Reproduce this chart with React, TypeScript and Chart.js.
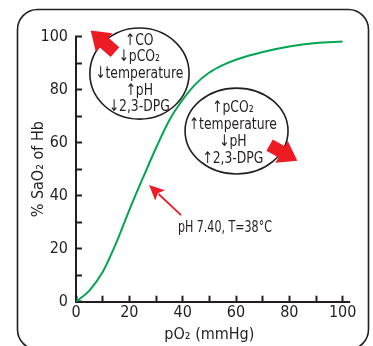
import React, { useEffect, useRef } from "react";
import { Chart, registerables } from "chart.js";

Chart.register(...registerables);

// ---- data ----
const pO2 = [0, 5, 10, 15, 20, 25, 30, 35, 40, 45, 50, 55, 60, 70, 80, 90, 100];
const saturation = [0, 4.2, 11.2, 22, 34.6, 46.5, 58, 68.5, 76.2, 82.3, 86.5, 89.3, 91.3, 94.2, 96.3, 97.6, 98.2];
const xTicks = [0, 10, 20, 30, 40, 50, 60, 70, 80, 90, 100];
const yTicks = [0, 10, 20, 30, 40, 50, 60, 70, 80, 90, 100];
const labelStep = 20;
const leftShiftFactors = ["↑CO", "↓pCO₂", "↓temperature", "↑pH", "↓2,3-DPG"];
const rightShiftFactors = ["↑pCO₂", "↑temperature", "↓pH", "↑2,3-DPG"];
const conditionLabel = "pH 7.40, T=38°C";
const xTitle = "pO₂ (mmHg)";
const yTitle = "% SaO₂ of Hb";

// ---- annotation anchors (data units) ----
const leftEllipse = { x: 23.8, y: 86.1, rx: 18.6, ry: 17.2 };
const leftText = { x: 23.7, y: 86.0 };
const rightEllipse = { x: 60.2, y: 64.4, rx: 19.3, ry: 16.2 };
const rightText = { x: 58.8, y: 63.6 };
const leftArrow = { from: { x: 14.6, y: 94.2 }, to: { x: 5.5, y: 102.3 } };
const rightArrow = { from: { x: 72.6, y: 59.1 }, to: { x: 83.0, y: 53.2 } };
const pointer = { from: { x: 39.4, y: 32.7 }, to: { x: 27.4, y: 44.0 } };
const pointerText = { x: 38.2, y: 26.3 };
const xAxisOverrun = 2.8; // axis line continues past 100 (data units)

// ---- styles ----
const FONT = "'Liberation Sans Narrow', 'DejaVu Sans Condensed', 'Arial Narrow', 'Liberation Sans', sans-serif";
const INK = "#231f20";
const RED = "#ed1c24";
const GREEN = "#00a651";

function bigArrow(ctx: CanvasRenderingContext2D, x1: number, y1: number, x2: number, y2: number) {
  const dx = x2 - x1, dy = y2 - y1;
  const L = Math.hypot(dx, dy);
  const ux = dx / L, uy = dy / L;
  const nx = -uy, ny = ux;
  const headLen = 18, headHalf = 12.5, shaftHalf = 6.5;
  const bx = x2 - ux * headLen, by = y2 - uy * headLen;
  ctx.beginPath();
  ctx.moveTo(x1 + nx * shaftHalf, y1 + ny * shaftHalf);
  ctx.lineTo(bx + nx * shaftHalf, by + ny * shaftHalf);
  ctx.lineTo(bx + nx * headHalf, by + ny * headHalf);
  ctx.lineTo(x2, y2);
  ctx.lineTo(bx - nx * headHalf, by - ny * headHalf);
  ctx.lineTo(bx - nx * shaftHalf, by - ny * shaftHalf);
  ctx.lineTo(x1 - nx * shaftHalf, y1 - ny * shaftHalf);
  ctx.closePath();
  ctx.fillStyle = RED;
  ctx.fill();
}

function thinArrow(ctx: CanvasRenderingContext2D, x1: number, y1: number, x2: number, y2: number) {
  const dx = x2 - x1, dy = y2 - y1;
  const L = Math.hypot(dx, dy);
  const ux = dx / L, uy = dy / L;
  const nx = -uy, ny = ux;
  const headLen = 15, headHalf = 7;
  const bx = x2 - ux * headLen, by = y2 - uy * headLen;
  ctx.beginPath();
  ctx.moveTo(x1, y1);
  ctx.lineTo(bx + ux * 2, by + uy * 2);
  ctx.strokeStyle = RED;
  ctx.lineWidth = 1.8;
  ctx.stroke();
  ctx.beginPath();
  ctx.moveTo(x2, y2);
  ctx.lineTo(bx + nx * headHalf, by + ny * headHalf);
  ctx.lineTo(bx + ux * 3, by + uy * 3);
  ctx.lineTo(bx - nx * headHalf, by - ny * headHalf);
  ctx.closePath();
  ctx.fillStyle = RED;
  ctx.fill();
}

function squeezedText(ctx: CanvasRenderingContext2D, t: string, x: number, y: number, k: number) {
  ctx.save();
  ctx.translate(x, y);
  ctx.scale(k, 1);
  ctx.fillText(t, 0, 0);
  ctx.restore();
}

const decorPlugin = {
  id: "decor",
  beforeDraw(chart: any) {
    const ctx = chart.ctx as CanvasRenderingContext2D;
    ctx.save();
    ctx.strokeStyle = INK;
    ctx.lineWidth = 1.6;
    ctx.beginPath();
    (ctx as any).roundRect(17.5, 9.5, 351, 340, 20);
    ctx.stroke();
    ctx.restore();
  },
  afterDraw(chart: any) {
    const ctx = chart.ctx as CanvasRenderingContext2D;
    const xs = chart.scales.x, ys = chart.scales.y;
    const px = (v: number) => xs.getPixelForValue(v);
    const py = (v: number) => ys.getPixelForValue(v);
    const sx = (d: number) => Math.abs(xs.getPixelForValue(d) - xs.getPixelForValue(0));
    const sy = (d: number) => Math.abs(ys.getPixelForValue(d) - ys.getPixelForValue(0));
    ctx.save();

    // x axis line runs a little past the last tick
    const ay = Math.round(py(0));
    ctx.strokeStyle = INK;
    ctx.lineWidth = 2;
    ctx.beginPath();
    ctx.moveTo(px(100) - 1, ay);
    ctx.lineTo(px(100 + xAxisOverrun), ay);
    ctx.stroke();

    const drawEllipse = (e: any) => {
      ctx.beginPath();
      ctx.ellipse(px(e.x), py(e.y), sx(e.rx), sy(e.ry), 0, 0, Math.PI * 2);
      ctx.fillStyle = "#ffffff";
      ctx.fill();
      ctx.strokeStyle = INK;
      ctx.lineWidth = 1.6;
      ctx.stroke();
    };
    drawEllipse(leftEllipse);
    drawEllipse(rightEllipse);

    const drawLines = (lines: string[], c: any, spacing: number) => {
      ctx.font = `16px ${FONT}`;
      ctx.fillStyle = INK;
      ctx.textAlign = "center";
      ctx.textBaseline = "middle";
      const cx = px(c.x), cy = py(c.y);
      const start = cy - ((lines.length - 1) * spacing) / 2;
      lines.forEach((t, i) => squeezedText(ctx, t, cx, start + i * spacing, 0.86));
    };
    drawLines(leftShiftFactors, leftText, 16.6);
    drawLines(rightShiftFactors, rightText, 17);

    bigArrow(ctx, px(leftArrow.from.x), py(leftArrow.from.y), px(leftArrow.to.x), py(leftArrow.to.y));
    bigArrow(ctx, px(rightArrow.from.x), py(rightArrow.from.y), px(rightArrow.to.x), py(rightArrow.to.y));
    thinArrow(ctx, px(pointer.from.x), py(pointer.from.y), px(pointer.to.x), py(pointer.to.y));

    ctx.font = `16px ${FONT}`;
    ctx.fillStyle = INK;
    ctx.textAlign = "left";
    ctx.textBaseline = "alphabetic";
    squeezedText(ctx, conditionLabel, px(pointerText.x), py(pointerText.y), 0.77);
    ctx.restore();
  },
};

export default function App() {
  const ref = useRef<HTMLCanvasElement | null>(null);
  useEffect(() => {
    if (!ref.current) return;
    const tickFont = { family: FONT, size: 16 };
    const chart = new Chart(ref.current, {
      type: "line",
      data: {
        datasets: [
          {
            data: pO2.map((x, i) => ({ x, y: saturation[i] })),
            borderColor: GREEN,
            borderWidth: 2,
            pointRadius: 0,
            cubicInterpolationMode: "monotone",
            fill: false,
          },
        ],
      },
      options: {
        animation: false,
        responsive: false,
        devicePixelRatio: 1,
        layout: { padding: { top: 36.7, right: 30.3, bottom: 0, left: 0 } },
        plugins: { legend: { display: false }, tooltip: { enabled: false } },
        scales: {
          x: {
            type: "linear",
            min: 0,
            max: 100,
            afterBuildTicks: (s: any) => {
              s.ticks = xTicks.map((v) => ({ value: v }));
            },
            afterFit: (s: any) => {
              s.height = 44.3;
            },
            ticks: {
              autoSkip: false,
              maxRotation: 0,
              font: tickFont,
              color: INK,
              padding: 8,
              callback: (v: any) => (Number(v) % labelStep === 0 ? String(v) : ""),
            },
            grid: { drawOnChartArea: false, tickLength: -6, tickWidth: 2, tickColor: INK },
            border: { color: INK, width: 2 },
            title: { display: true, text: xTitle, font: { family: FONT, size: 16 }, color: INK, padding: { top: 0, bottom: 2 } },
          },
          y: {
            type: "linear",
            min: 0,
            max: 100,
            afterBuildTicks: (s: any) => {
              s.ticks = yTicks.map((v) => ({ value: v }));
            },
            afterFit: (s: any) => {
              s.width = 76;
            },
            ticks: {
              autoSkip: false,
              font: tickFont,
              color: INK,
              padding: 14,
              callback: (v: any) => (Number(v) % labelStep === 0 ? String(v) : ""),
            },
            grid: { drawOnChartArea: false, tickLength: -6, tickWidth: 2, tickColor: INK },
            border: { color: INK, width: 2 },
            title: { display: true, text: yTitle, font: { family: FONT, size: 16 }, color: INK, padding: { top: 29.4, bottom: 0 } },
          },
        },
      } as any,
      plugins: [decorPlugin],
    });
    return () => chart.destroy();
  }, []);
  return (
    <div style={{ position: "fixed", left: 0, top: 0, width: 373, height: 346, background: "#fff" }}>
      <canvas ref={ref} width={373} height={346} style={{ width: 373, height: 346, display: "block" }} />
    </div>
  );
}
